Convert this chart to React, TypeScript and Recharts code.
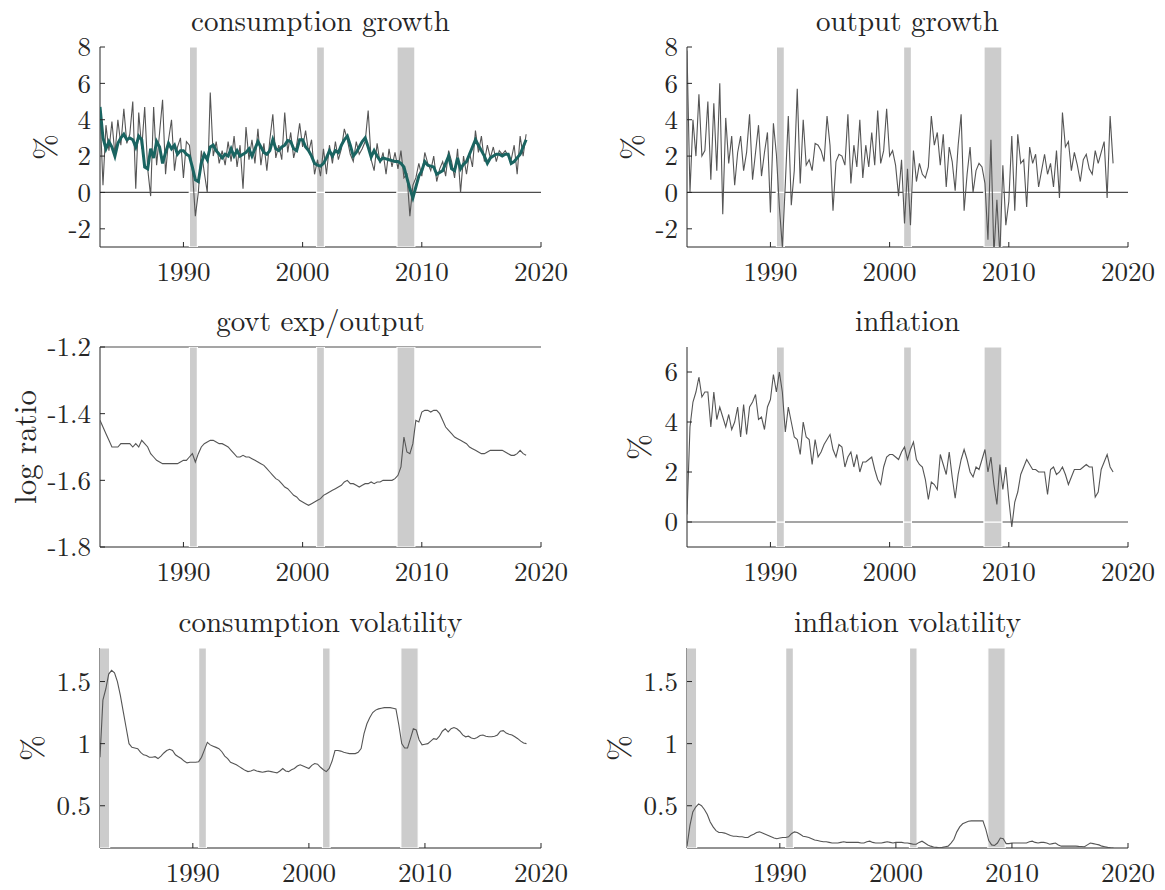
import React from "react";
import { LineChart, Line, XAxis, YAxis, ReferenceArea, ReferenceLine } from "recharts";

const AXIS = "#262626";
const SERIES = "#555555";
const TEAL = "#1a6461";
const SHADE = "#cccccc";
const FONT = "'Latin Modern Roman', 'Liberation Serif', serif";

// NBER recessions (start, end) in decimal years
const recessions: [number, number][] = [
  [1981.5, 1982.83],
  [1990.5, 1991.17],
  [2001.17, 2001.83],
  [2007.92, 2009.42],
];
const yearTicks = [1990, 2000, 2010, 2020];

// quarterly, 1983Q1 - 2018Q4
const consGrowth = [
  4.5, 0.4, 3.7, 2.3,
  3.9, 2.1, 4.0, 2.6,
  4.6, 2.7, 3.2, 5.0,
  0.2, 4.4, 2.4, 4.7,
  1.3, -0.2, 4.7, 1.5,
  3.3, 5.1, 1.0, 2.9,
  4.0, 1.2, 2.5, 3.0,
  0.8, 2.8, 2.6, 1.2,
  -1.3, 0.0, 2.3, 1.1,
  0.0, 5.5, 2.0, 2.8,
  1.6, 2.3, 1.5, 2.8,
  1.7, 3.1, 1.4, 2.6,
  0.2, 3.6, 1.8, 2.9,
  1.6, 3.5, 1.5, 2.7,
  1.2, 2.9, 4.3, 1.9,
  2.6, 1.8, 4.4, 2.2,
  3.3, 1.9, 2.6, 3.8,
  2.5, 3.4, 2.2, 2.9,
  1.0, 1.8, 0.9, 2.4,
  1.0, 2.6, 1.6, 2.8,
  1.8, 2.4, 3.5, 2.9,
  2.1, 1.7, 2.8, 2.1,
  2.4, 2.8, 4.5, 1.8,
  1.2, 2.7, 1.6, 2.2,
  1.0, 2.4, 1.4, 2.2,
  1.3, 2.3, 0.8, 1.0,
  -1.3, 0.4, 0.8, 1.6,
  0.9, 2.2, 1.6, 1.2,
  2.0, 0.6, 1.3, 1.7,
  0.9, 2.3, 1.7, 0.8,
  2.4, 0.0, 2.0, 1.0,
  2.2, 1.4, 3.4, 2.2,
  3.1, 1.7, 2.6, 1.9,
  2.5, 1.7, 2.3, 2.1,
  2.3, 2.0, 1.8, 2.6,
  1.0, 3.1, 2.0, 3.2,
];

const consTrend = [
  4.7, 3.0, 2.4, 2.8,
  2.5, 2.0, 2.7, 3.0,
  3.2, 2.9, 3.0, 2.9,
  2.5, 3.1, 2.9, 1.4,
  1.3, 2.4, 1.9, 2.8,
  2.5, 1.6, 2.2, 2.7,
  2.4, 2.6, 2.1, 2.3,
  2.3, 2.1, 2.0, 1.4,
  0.7, 0.6, 1.6, 2.1,
  1.8, 2.5, 2.6, 2.3,
  2.1, 1.9, 2.1, 2.0,
  2.4, 2.0, 2.3, 2.0,
  2.1, 2.2, 2.4, 2.0,
  2.4, 2.8, 2.5, 2.2,
  2.1, 2.3, 2.9, 2.4,
  2.3, 2.5, 2.6, 2.85,
  2.8, 2.4, 2.3, 2.9,
  2.9, 2.5, 2.3, 2.0,
  1.6, 1.5, 1.45, 1.6,
  1.9, 2.3, 2.0, 2.3,
  2.2, 2.6, 2.9, 3.1,
  2.6, 2.0, 2.2, 2.5,
  2.8, 3.0, 2.5, 1.95,
  2.3, 2.0, 1.75, 1.9,
  1.85, 1.8, 1.75, 1.7,
  1.7, 1.6, 1.4, 0.8,
  0.2, -0.3, 0.3, 0.9,
  1.2, 1.7, 1.5, 1.45,
  1.4, 1.0, 1.1, 1.2,
  1.6, 2.0, 1.3, 1.2,
  1.9, 1.3, 1.55, 1.7,
  2.1, 2.5, 2.9, 2.6,
  2.3, 2.0, 1.6, 1.9,
  2.0, 2.1, 2.1, 2.0,
  2.1, 2.1, 1.6, 1.7,
  1.9, 2.1, 2.5, 2.9,
];

const outputGrowth = [
  7.8, 0.0, 4.0, 2.0,
  5.4, 2.0, 2.3, 5.0,
  0.7, 4.9, 1.2, 6.0,
  -1.2, 4.1, 1.6, 3.1,
  0.4, 2.2, 3.1, 1.2,
  2.2, 4.3, 0.7, 2.2,
  3.7, 0.9, 2.2, 3.3,
  -1.1, 3.8, 2.1, -0.8,
  -3.0, 0.5, 4.2, -0.7,
  1.2, 5.7, 0.5, 4.0,
  1.5, 1.8, 1.2, 2.7,
  2.6, 2.3, 1.7, 4.2,
  2.6, -1.0, 1.7, 2.1,
  2.0, 1.5, 4.3, 0.5,
  2.6, 1.4, 4.0, 0.8,
  2.6, 1.4, 3.3, 1.5,
  4.5, 1.6, 2.3, 4.6,
  2.0, 2.3, 1.5, -0.2,
  1.8, -1.7, 1.3, -1.8,
  2.3, 0.6, 1.6, 1.0,
  0.8, 1.4, 4.2, 2.6,
  3.3, 1.5, 3.2, 0.3,
  2.5, 1.7, 0.1, 2.6,
  4.3, -1.0, 1.0, 2.5,
  0.0, 1.2, 1.6, 1.4,
  0.5, -2.6, 2.9, -3.4,
  -0.4, -3.5, 1.5, -1.8,
  -0.5, 3.1, -1.0, 3.2,
  1.6, 1.8, -0.8, 2.5,
  1.6, 2.1, 0.3, 1.2,
  2.1, 1.0, 1.6, 0.3,
  2.3, -0.3, 4.4, 2.5,
  2.8, 1.2, 2.2, 1.5,
  0.6, 1.8, 2.1, 1.3,
  1.0, 2.3, 1.6, 2.2,
  2.8, -0.3, 4.2, 1.6,
];

const govtRatio = [
  -1.42, -1.44, -1.46, -1.48,
  -1.5, -1.5, -1.5, -1.49,
  -1.49, -1.49, -1.49, -1.5,
  -1.49, -1.5, -1.48, -1.49,
  -1.5, -1.52, -1.53, -1.54,
  -1.545, -1.55, -1.55, -1.55,
  -1.55, -1.55, -1.55, -1.545,
  -1.54, -1.54, -1.53, -1.52,
  -1.545, -1.52, -1.5, -1.49,
  -1.485, -1.48, -1.48, -1.485,
  -1.49, -1.49, -1.495, -1.5,
  -1.51, -1.52, -1.53, -1.53,
  -1.525, -1.53, -1.53, -1.535,
  -1.54, -1.545, -1.55, -1.555,
  -1.565, -1.575, -1.585, -1.595,
  -1.6, -1.61, -1.62, -1.625,
  -1.635, -1.645, -1.65, -1.66,
  -1.665, -1.67, -1.675, -1.67,
  -1.665, -1.66, -1.655, -1.645,
  -1.64, -1.635, -1.63, -1.625,
  -1.62, -1.615, -1.605, -1.6,
  -1.61, -1.61, -1.615, -1.62,
  -1.615, -1.61, -1.61, -1.605,
  -1.61, -1.605, -1.605, -1.6,
  -1.6, -1.6, -1.6, -1.595,
  -1.585, -1.56, -1.47, -1.515,
  -1.52, -1.49, -1.42, -1.425,
  -1.395, -1.39, -1.39, -1.395,
  -1.39, -1.39, -1.4, -1.42,
  -1.44, -1.45, -1.46, -1.47,
  -1.475, -1.48, -1.485, -1.49,
  -1.5, -1.505, -1.51, -1.515,
  -1.52, -1.52, -1.515, -1.51,
  -1.51, -1.51, -1.51, -1.51,
  -1.515, -1.52, -1.525, -1.525,
  -1.52, -1.51, -1.52, -1.525,
];

const inflation = [
  0.3, 3.8, 4.8, 5.2,
  5.8, 5.0, 5.2, 5.2,
  3.8, 5.2, 4.1, 4.6,
  4.2, 3.8, 4.3, 3.7,
  4.0, 4.6, 3.4, 4.7,
  3.5, 4.6, 4.8, 5.1,
  4.1, 4.2, 3.7, 4.6,
  4.9, 5.9, 5.2, 6.0,
  5.2, 3.6, 4.6, 4.0,
  3.4, 3.3, 2.7, 4.0,
  3.4, 3.3, 2.3, 3.3,
  2.6, 2.8, 3.1, 3.3,
  3.5, 2.9, 2.6, 3.1,
  3.0, 2.2, 2.6, 2.8,
  2.2, 2.7, 2.0, 2.4,
  2.4, 2.5, 2.6, 2.1,
  1.7, 1.5, 2.2, 2.6,
  2.7, 2.7, 2.6, 2.5,
  2.8, 3.0, 2.5, 2.9,
  3.2, 2.5, 2.3, 2.2,
  1.7, 0.9, 1.6, 1.5,
  1.3, 2.7, 2.3, 1.9,
  2.8, 1.8, 0.95, 1.9,
  2.5, 2.9, 2.5, 2.0,
  1.8, 2.2, 2.1, 2.5,
  2.9, 2.0, 2.6, 1.5,
  0.7, 2.3, 1.3, 2.2,
  0.9, -0.2, 0.8, 1.2,
  1.9, 2.2, 2.5, 2.3,
  2.1, 2.1, 2.0, 2.0,
  2.0, 1.1, 2.1, 2.2,
  1.9, 2.0, 2.2, 1.9,
  1.5, 1.8, 2.1, 2.1,
  2.1, 2.2, 2.3, 2.2,
  2.2, 1.0, 1.2, 2.1,
  2.4, 2.7, 2.2, 2.0,
];

// quarterly, 1982Q1 - 2018Q4
const consVol = [
  0.89, 1.35, 1.44, 1.56,
  1.59, 1.57, 1.5, 1.39,
  1.26, 1.13, 1.0, 0.97,
  0.965, 0.96, 0.93, 0.91,
  0.905, 0.89, 0.89, 0.895,
  0.88, 0.9, 0.925, 0.945,
  0.955, 0.945, 0.91, 0.895,
  0.88, 0.86, 0.845, 0.85,
  0.85, 0.85, 0.855, 0.89,
  0.95, 1.01, 0.99, 0.98,
  0.97, 0.96, 0.935, 0.9,
  0.88, 0.85, 0.84, 0.83,
  0.815, 0.8, 0.785, 0.775,
  0.78, 0.79, 0.78, 0.775,
  0.77, 0.775, 0.78, 0.775,
  0.77, 0.765, 0.78, 0.8,
  0.78, 0.775, 0.79, 0.8,
  0.82, 0.83, 0.82, 0.81,
  0.8, 0.825, 0.84, 0.835,
  0.81, 0.79, 0.775, 0.8,
  0.86, 0.945, 0.945, 0.94,
  0.93, 0.925, 0.92, 0.92,
  0.92, 0.93, 0.96, 1.08,
  1.16, 1.21, 1.25, 1.27,
  1.28, 1.285, 1.29, 1.29,
  1.29, 1.285, 1.28, 1.15,
  1.0, 0.965, 0.965, 1.04,
  1.12, 1.11, 1.03, 0.99,
  0.995, 1.0, 1.02, 1.04,
  1.035, 1.06, 1.1, 1.12,
  1.095, 1.12, 1.13, 1.12,
  1.1, 1.07, 1.055, 1.06,
  1.045, 1.04, 1.05, 1.065,
  1.07, 1.06, 1.055, 1.055,
  1.06, 1.07, 1.1, 1.105,
  1.085, 1.075, 1.07, 1.055,
  1.04, 1.02, 1.005, 1.0,
];

const inflVol = [
  0.175, 0.34, 0.45, 0.49,
  0.515, 0.5, 0.47, 0.43,
  0.37, 0.33, 0.3, 0.285,
  0.285, 0.28, 0.27, 0.26,
  0.255, 0.255, 0.25, 0.25,
  0.245, 0.245, 0.26, 0.27,
  0.285, 0.29, 0.28, 0.27,
  0.26, 0.25, 0.24, 0.235,
  0.24, 0.245, 0.245, 0.25,
  0.275, 0.29, 0.285, 0.27,
  0.255, 0.25, 0.245, 0.235,
  0.225, 0.22, 0.215, 0.21,
  0.21, 0.205, 0.2, 0.2,
  0.2, 0.205, 0.21, 0.205,
  0.205, 0.205, 0.205, 0.205,
  0.2, 0.2, 0.21, 0.215,
  0.205, 0.2, 0.2, 0.2,
  0.205, 0.21, 0.205, 0.2,
  0.205, 0.205, 0.205, 0.2,
  0.2, 0.195, 0.19, 0.19,
  0.205, 0.215, 0.2, 0.185,
  0.175, 0.168, 0.165, 0.162,
  0.165, 0.17, 0.175, 0.2,
  0.23, 0.29, 0.33, 0.355,
  0.365, 0.375, 0.378, 0.378,
  0.378, 0.378, 0.378, 0.31,
  0.22, 0.185, 0.18, 0.2,
  0.24, 0.235, 0.195, 0.195,
  0.2, 0.2, 0.2, 0.2,
  0.2, 0.2, 0.21, 0.215,
  0.205, 0.2, 0.205, 0.205,
  0.2, 0.19, 0.195, 0.2,
  0.185, 0.175, 0.175, 0.175,
  0.175, 0.175, 0.175, 0.173,
  0.172, 0.17, 0.185, 0.2,
  0.195, 0.19, 0.185, 0.175,
  0.17, 0.165, 0.162, 0.16,
];

type Row = { t: number; [k: string]: number };

function quarterly(start: number, series: Record<string, number[]>): Row[] {
  const keys = Object.keys(series);
  return series[keys[0]].map((_, i) => {
    const row: Row = { t: start + i / 4 };
    keys.forEach((k) => (row[k] = series[k][i]));
    return row;
  });
}

const textStyle = { fontFamily: FONT };

const XTick = (props: any) => {
  const { x, y, payload } = props;
  return (
    <g>
      <line x1={x} x2={x} y1={y} y2={y - 5} stroke={AXIS} strokeWidth={1} />
      <text x={x} y={y + 34} textAnchor="middle" fontSize={27} style={textStyle} fill={AXIS}>
        {payload.value}
      </text>
    </g>
  );
};

const YTick = (props: any) => {
  const { x, y, payload } = props;
  return (
    <g>
      <line x1={x} x2={x + 5} y1={y} y2={y} stroke={AXIS} strokeWidth={1} />
      <text x={x - 9} y={y} dy="0.34em" textAnchor="end" fontSize={27} style={textStyle} fill={AXIS}>
        {payload.value}
      </text>
    </g>
  );
};

type SeriesDef = { key: string; color: string; width: number };

type PanelProps = {
  title: string;
  plotLeft: number;
  plotTop: number;
  data: Row[];
  series: SeriesDef[];
  xStart: number;
  yDomain: [number, number];
  yTicks: number[];
  yLabel: string;
  labelGap: number;
  topLine?: boolean;
};

const PLOT_W = 441;
const PLOT_H = 200;

function Panel({ title, plotLeft, plotTop, data, series, xStart, yDomain, yTicks, yLabel, labelGap, topLine }: PanelProps) {
  const [yMin, yMax] = yDomain;
  const hasZero = yMin < 0 && yMax > 0;
  // split shading at zero so the zero line shows a white seam through it
  const bands = hasZero
    ? recessions.flatMap(([a, b]) => [
        { x1: a, x2: b, y1: yMin, y2: 0 },
        { x1: a, x2: b, y1: 0, y2: yMax },
      ])
    : recessions.map(([a, b]) => ({ x1: a, x2: b, y1: yMin, y2: yMax }));

  return (
    <>
      <div
        style={{
          position: "absolute",
          left: plotLeft,
          top: plotTop - 42,
          width: PLOT_W,
          textAlign: "center",
          fontSize: 29,
          lineHeight: "28px",
          color: AXIS,
          fontFamily: FONT,
          whiteSpace: "nowrap",
        }}
      >
        {title}
      </div>
      <div
        style={{
          position: "absolute",
          left: plotLeft - labelGap,
          top: plotTop + PLOT_H / 2,
          transform: "translate(-50%, -50%) rotate(-90deg)",
          fontSize: 31,
          lineHeight: "31px",
          color: AXIS,
          fontFamily: FONT,
          whiteSpace: "nowrap",
        }}
      >
        {yLabel}
      </div>
      <div style={{ position: "absolute", left: plotLeft - 100, top: plotTop - 47 }}>
        <LineChart
          width={580}
          height={300}
          data={data}
          margin={{ top: 47, right: 580 - 100 - PLOT_W, bottom: 0, left: 0 }}
        >
          <XAxis
            dataKey="t"
            type="number"
            domain={[xStart, 2020]}
            ticks={yearTicks}
            interval={0}
            allowDataOverflow
            height={53}
            tickSize={0}
            tickMargin={0}
            tickLine={false}
            axisLine={{ stroke: AXIS, strokeWidth: 1 }}
            tick={XTick}
          />
          <YAxis
            type="number"
            domain={yDomain}
            ticks={yTicks}
            interval={0}
            allowDataOverflow
            width={100}
            tickSize={0}
            tickMargin={0}
            tickLine={false}
            axisLine={{ stroke: AXIS, strokeWidth: 1 }}
            tick={YTick}
          />
          {hasZero && <ReferenceLine y={0} stroke="#4d4d4d" strokeWidth={1.2} zIndex={520} />}
          {topLine && <ReferenceLine y={yMax} stroke="#4d4d4d" strokeWidth={1.2} zIndex={520} />}
          {bands.map((b, i) => (
            <ReferenceArea
              key={i}
              x1={b.x1}
              x2={b.x2}
              y1={b.y1}
              y2={b.y2}
              fill={SHADE}
              fillOpacity={1}
              stroke="#ffffff"
              strokeWidth={1.2}
              ifOverflow="hidden"
              zIndex={550}
            />
          ))}
          {series.map((s, i) => (
            <Line
              key={s.key}
              dataKey={s.key}
              type="linear"
              stroke={s.color}
              strokeWidth={s.width}
              dot={false}
              activeDot={false}
              isAnimationActive={false}
              zIndex={600 + i}
            />
          ))}
        </LineChart>
      </div>
    </>
  );
}

const consData = quarterly(1983, { c: consGrowth, m: consTrend });
const outputData = quarterly(1983, { y: outputGrowth });
const govtData = quarterly(1983, { g: govtRatio });
const inflData = quarterly(1983, { p: inflation });
const consVolData = quarterly(1982, { v: consVol });
const inflVolData = quarterly(1982, { v: inflVol });

const LEFT = 100;
const RIGHT = 687;
const ROWS = [47, 347, 648];

export default function App() {
  return (
    <div
      style={{
        position: "absolute",
        left: 0,
        top: 0,
        width: 1165,
        height: 890,
        background: "#ffffff",
        overflow: "hidden",
        fontFamily: FONT,
      }}
    >
      <Panel
        title="consumption growth"
        plotLeft={LEFT}
        plotTop={ROWS[0]}
        data={consData}
        series={[
          { key: "c", color: SERIES, width: 1.1 },
          { key: "m", color: TEAL, width: 3 },
        ]}
        xStart={1983}
        yDomain={[-3, 8]}
        yTicks={[-2, 0, 2, 4, 6, 8]}
        yLabel="%"
        labelGap={57}
      />
      <Panel
        title="output growth"
        plotLeft={RIGHT}
        plotTop={ROWS[0]}
        data={outputData}
        series={[{ key: "y", color: SERIES, width: 1.1 }]}
        xStart={1983}
        yDomain={[-3, 8]}
        yTicks={[-2, 0, 2, 4, 6, 8]}
        yLabel="%"
        labelGap={57}
      />
      <Panel
        title="govt exp/output"
        plotLeft={LEFT}
        plotTop={ROWS[1]}
        data={govtData}
        series={[{ key: "g", color: SERIES, width: 1.1 }]}
        xStart={1983}
        yDomain={[-1.8, -1.2]}
        yTicks={[-1.8, -1.6, -1.4, -1.2]}
        yLabel="log ratio"
        labelGap={77}
        topLine
      />
      <Panel
        title="inflation"
        plotLeft={RIGHT}
        plotTop={ROWS[1]}
        data={inflData}
        series={[{ key: "p", color: SERIES, width: 1.1 }]}
        xStart={1983}
        yDomain={[-1, 7]}
        yTicks={[0, 2, 4, 6]}
        yLabel="%"
        labelGap={50}
      />
      <Panel
        title="consumption volatility"
        plotLeft={LEFT}
        plotTop={ROWS[2]}
        data={consVolData}
        series={[{ key: "v", color: SERIES, width: 1.1 }]}
        xStart={1982}
        yDomain={[0.16, 1.77]}
        yTicks={[0.5, 1, 1.5]}
        yLabel="%"
        labelGap={70}
      />
      <Panel
        title="inflation volatility"
        plotLeft={RIGHT}
        plotTop={ROWS[2]}
        data={inflVolData}
        series={[{ key: "v", color: SERIES, width: 1.1 }]}
        xStart={1982}
        yDomain={[0.16, 1.77]}
        yTicks={[0.5, 1, 1.5]}
        yLabel="%"
        labelGap={70}
      />
    </div>
  );
}
